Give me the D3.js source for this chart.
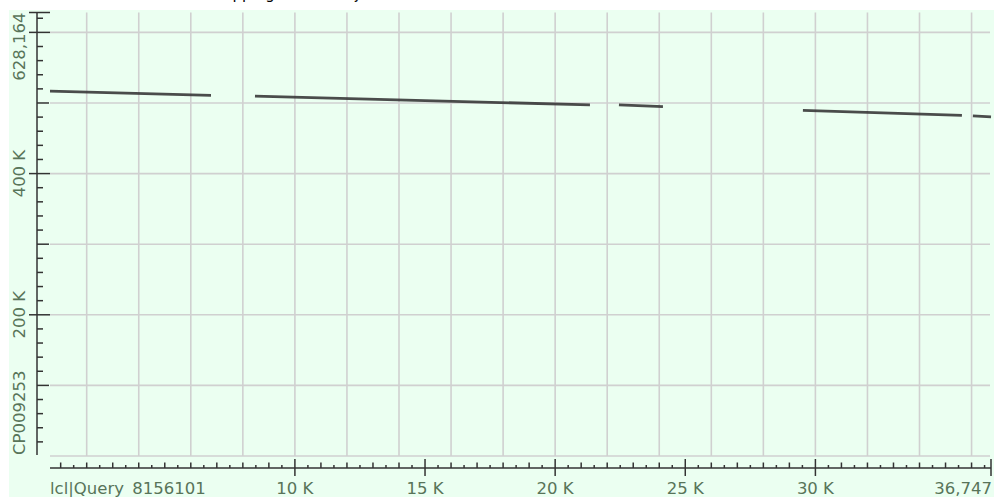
<!DOCTYPE html>
<html>
<head>
<meta charset="utf-8">
<script src="https://cdn.jsdelivr.net/npm/d3@7"></script>
<style>
  body { margin: 0; background: #fff; }
  svg { display: block; }
</style>
</head>
<body>
<div id="container"></div>
<script>
// Alignment segments (query position vs subject position)
const segQueryStart = [590, 8466, 22451, 29520, 36051];
const segQueryEnd = [6776, 21337, 24142, 35629, 36747];
const segSubjectStart = [516800, 509800, 497300, 489500, 481700];
const segSubjectEnd = [510800, 497300, 494800, 482500, 480300];

// Axis labels
const queryName = "lcl|Query_8156101";
const subjectName = "CP009253";
const queryLength = 36747;
const subjectLength = 628164;
const xLabelValues = [10000, 15000, 20000, 25000, 30000];
const xLabelTexts = ["10 K", "15 K", "20 K", "25 K", "30 K"];
const yLabelValues = [400000, 200000];
const yLabelTexts = ["400 K", "200 K"];

const width = 994;
const height = 497;
const plotLeft = 50;
const plotRight = 991;
const plotTop = 12.5;
const plotBottom = 456;
const yAxisX = 37;
const xAxisY = 468;
const labelColor = "#587459";
const axisColor = "#333";
const font = "'DejaVu Sans', Verdana, sans-serif";

const svg = d3.select("#container").append("svg")
  .attr("width", width)
  .attr("height", height);

// page title (mostly off the top edge)
svg.append("text")
  .attr("x", 86)
  .attr("y", -1)
  .attr("font-family", font)
  .attr("font-size", 15)
  .attr("fill", "#000")
  .text("Dot matrix view   Mapping   of the subject");

// background panel
svg.append("rect")
  .attr("x", 9).attr("y", 10)
  .attr("width", width - 9).attr("height", height - 10)
  .attr("fill", "#ebfff1");

const x = d3.scaleLinear().domain([590, queryLength]).range([plotLeft, plotRight]);
const y = d3.scaleLinear().domain([0, subjectLength]).range([plotBottom, plotTop]);

// grid
const grid = svg.append("g").attr("stroke", "#d0d0d0").attr("stroke-width", 1.6);
grid.selectAll("line.v")
  .data(d3.range(2000, queryLength, 2000))
  .join("line")
  .attr("x1", d => x(d)).attr("x2", d => x(d))
  .attr("y1", plotTop).attr("y2", plotBottom);
grid.selectAll("line.h")
  .data(d3.range(0, subjectLength, 100000))
  .join("line")
  .attr("x1", plotLeft).attr("x2", 990)
  .attr("y1", d => y(d)).attr("y2", d => y(d));

// alignment segments
const segs = segQueryStart.map((q, i) => ({
  q1: q, q2: segQueryEnd[i], s1: segSubjectStart[i], s2: segSubjectEnd[i]
}));
svg.append("g")
  .selectAll("line")
  .data(segs)
  .join("line")
  .attr("x1", d => x(d.q1)).attr("x2", d => x(d.q2))
  .attr("y1", d => y(d.s1)).attr("y2", d => y(d.s2))
  .attr("stroke", "#333")
  .attr("stroke-width", 2.8)
  .attr("stroke-opacity", 0.88);

// y axis
const yAxis = svg.append("g").attr("stroke", axisColor).attr("stroke-width", 1.5);
yAxis.append("line")
  .attr("x1", yAxisX).attr("x2", yAxisX)
  .attr("y1", plotTop - 0.5).attr("y2", 455);
const yTicks = d3.range(20000, subjectLength, 20000);
yAxis.selectAll("line.t")
  .data(yTicks)
  .join("line")
  .attr("x1", d => d % 200000 === 0 ? 29 : yAxisX)
  .attr("x2", d => d % 200000 === 0 ? 50 : d % 100000 === 0 ? 49 : 43)
  .attr("y1", d => y(d)).attr("y2", d => y(d));
yAxis.append("line")
  .attr("x1", 29).attr("x2", 50)
  .attr("y1", y(subjectLength)).attr("y2", y(subjectLength));

// x axis (long ticks only where a label sits)
const xAxis = svg.append("g").attr("stroke", axisColor).attr("stroke-width", 1.5);
xAxis.append("line")
  .attr("x1", plotLeft).attr("x2", plotRight)
  .attr("y1", xAxisY).attr("y2", xAxisY);
const xTicks = d3.range(1000, queryLength, 500);
const isMajor = d => xLabelValues.includes(d);
xAxis.selectAll("line.t")
  .data(xTicks)
  .join("line")
  .attr("x1", d => x(d)).attr("x2", d => x(d))
  .attr("y1", d => isMajor(d) ? 459 : d % 1000 === 0 ? 462.5 : 465)
  .attr("y2", d => isMajor(d) ? 476 : xAxisY);
xAxis.append("line")
  .attr("x1", x(queryLength)).attr("x2", x(queryLength))
  .attr("y1", 459).attr("y2", 476);

// x labels
const xl = svg.append("g")
  .attr("font-family", font)
  .attr("font-size", 16.5)
  .attr("fill", labelColor);
xl.append("text").attr("x", plotLeft).attr("y", 494).text(queryName);
xl.selectAll("text.k")
  .data(xLabelValues)
  .join("text")
  .attr("x", d => x(d)).attr("y", 494)
  .attr("text-anchor", "middle")
  .text((d, i) => xLabelTexts[i]);
xl.append("text")
  .attr("x", 992).attr("y", 494)
  .attr("text-anchor", "end")
  .text(d3.format(",")(queryLength));

// y labels (rotated)
const yl = svg.append("g")
  .attr("font-family", font)
  .attr("font-size", 16.5)
  .attr("fill", labelColor);
function yText(pos, anchor, txt) {
  yl.append("text")
    .attr("transform", `translate(25,${pos}) rotate(-90)`)
    .attr("text-anchor", anchor)
    .text(txt);
}
yText(y(subjectLength), "end", d3.format(",")(subjectLength));
yLabelValues.forEach((v, i) => yText(y(v), "middle", yLabelTexts[i]));
yText(455, "start", subjectName);
</script>
</body>
</html>
